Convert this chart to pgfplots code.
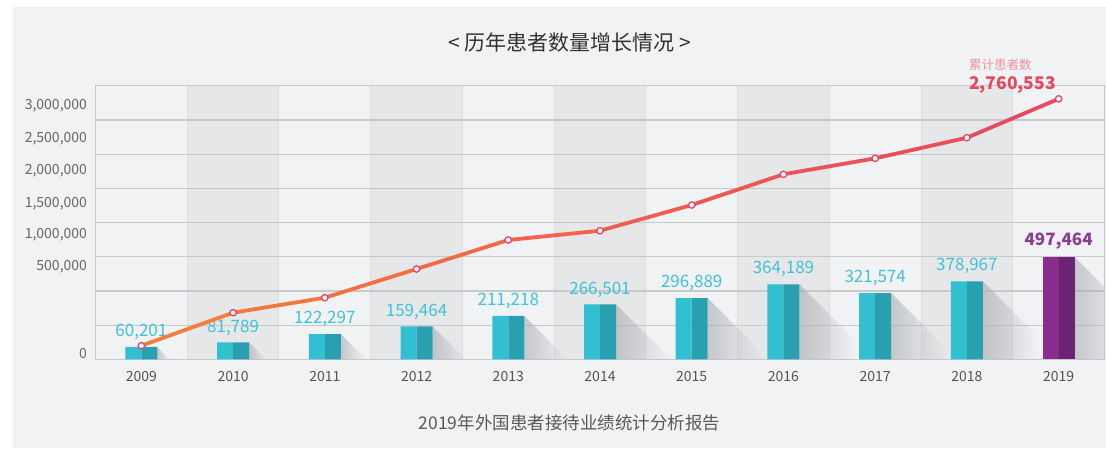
\documentclass[border=0pt]{standalone}
\usepackage{pgfplots}
\pgfplotsset{compat=1.18}
\usepackage{pgfplotstable}
\usepackage{fontspec}
\setmainfont{Noto Sans CJK SC}
\usetikzlibrary{calc,fadings}

\definecolor{outerbg}{HTML}{F1F2F4}
\definecolor{colshade}{HTML}{E6E7E9}
\definecolor{gridgray}{HTML}{C8C9CC}
\definecolor{sepgray}{HTML}{DCDDE0}
\definecolor{teallight}{HTML}{33BFD2}
\definecolor{tealdark}{HTML}{29A0AF}
\definecolor{purplelight}{HTML}{882C90}
\definecolor{purpledark}{HTML}{6B2373}
\definecolor{teallabel}{HTML}{40C3D7}
\definecolor{purplelabel}{HTML}{8B3C95}
\definecolor{shadowcol}{HTML}{A9ABB0}
\definecolor{markred}{HTML}{E8436C}
\definecolor{totalred}{HTML}{E8485C}
\definecolor{totalpink}{HTML}{F0909C}

\tikzfading[name=shadowfade, left color=transparent!0, right color=transparent!100]

\pgfplotsset{
  /pgf/number format/assume math mode=true,
  common/.style={
    scale only axis, width=1009pt, height=273.6pt,
    at={(95.5pt,88.7pt)}, anchor=south west,
    xmin=-0.5, xmax=10.5, scaled y ticks=false, scaled x ticks=false,
  },
}

\pgfplotstableread{
x v
0 60201
1 81789
2 122297
3 159464
4 211218
5 266501
6 296889
7 364189
8 321574
9 378967
}\tealdata

\pgfplotstableread{
x v
10 497464
}\purpledata

% cumulative line, positions
\pgfplotstableread{
x c
0 144100
1 493900
2 652900
3 957100
4 1264500
5 1363000
6 1635400
7 1960800
8 2130400
9 2348700
10 2760553
}\linedata

\newcommand\barshadow[2]{%
  \fill[shadowcol, fill opacity=0.6, path fading=shadowfade]
    let \p1=(axis cs:#1,#2), \p2=(axis cs:#1,0), \n1={min(\y1-\y2,55pt)} in
    (\x1+16pt,\y1) -- (\x1+16pt+\n1,\y1-\n1) -- (\x1+16pt+\n1,\y2) -- (\x1+16pt,\y2) -- cycle;}

\begin{document}
\begin{tikzpicture}[x=1pt,y=1pt]
\useasboundingbox (0,0) rectangle (1106,448);
\fill[outerbg] (13,0) rectangle (1106,441);

% column shading
\begin{axis}[common, hide axis, ymin=0, ymax=1]
  \fill[colshade] (axis cs:0.5,0) rectangle (axis cs:1.5,1);
  \fill[colshade] (axis cs:2.5,0) rectangle (axis cs:3.5,1);
  \fill[colshade] (axis cs:4.5,0) rectangle (axis cs:5.5,1);
  \fill[colshade] (axis cs:6.5,0) rectangle (axis cs:7.5,1);
  \fill[colshade] (axis cs:8.5,0) rectangle (axis cs:9.5,1);
\end{axis}

% grid and frame
\begin{axis}[common, ymin=0, ymax=8,
  axis line style={draw=gridgray, line width=1.3pt},
  ytick={0,1,2,3,4,5,6,7,8}, yticklabels={},
  ymajorgrids, grid style={draw=gridgray, line width=1.2pt},
  xtick={0,1,2,3,4,5,6,7,8,9,10},
  xticklabels={2009,2010,2011,2012,2013,2014,2015,2016,2017,2018,2019},
  minor xtick={0.5,1.5,2.5,3.5,4.5,5.5,6.5,7.5,8.5,9.5},
  xminorgrids, minor x grid style={draw=sepgray, line width=1pt},
  major tick length=0, minor tick length=0,
  xticklabel style={font=\fontsize{14}{16}\selectfont, text=black!67, yshift=-9pt},
]
\end{axis}

% bars
\begin{axis}[common, ybar,
  ymin=0, ymax=1330000,
  axis line style={draw=none},
  xtick=\empty, ytick=\empty,
  /pgf/number format/.cd, fixed, precision=0, 1000 sep={,},
]
  \barshadow{0}{60201}
  \barshadow{1}{81789}
  \barshadow{2}{122297}
  \barshadow{3}{159464}
  \barshadow{4}{211218}
  \barshadow{5}{266501}
  \barshadow{6}{296889}
  \barshadow{7}{364189}
  \barshadow{8}{321574}
  \barshadow{9}{378967}
  \barshadow{10}{497464}
  \addplot[ybar, bar width=16pt, bar shift=-8pt, fill=teallight, draw=none,
    nodes near coords,
    every node near coord/.append style={font=\fontsize{17}{20}\selectfont, text=teallabel, xshift=8pt, inner sep=0pt, yshift=7pt}]
    table[x=x,y=v]{\tealdata};
  \addplot[ybar, bar width=16pt, bar shift=8pt, fill=tealdark, draw=none]
    table[x=x,y=v]{\tealdata};
  \addplot[ybar, bar width=16pt, bar shift=-8pt, fill=purplelight, draw=none,
    nodes near coords,
    every node near coord/.append style={font=\fontsize{17}{20}\selectfont\bfseries, text=purplelabel, xshift=8pt, inner sep=0pt, yshift=7pt}]
    table[x=x,y=v]{\purpledata};
  \addplot[ybar, bar width=16pt, bar shift=8pt, fill=purpledark, draw=none]
    table[x=x,y=v]{\purpledata};
\end{axis}

% cumulative line
\begin{axis}[common,
  ymin=0, ymax=2900000,
  axis line style={draw=none},
  xtick=\empty,
  ytick={56200,978300,1322800,1648100,1997900,2338100,2692100},
  yticklabels={0,{500,000},{1,000,000},{1,500,000},{2,000,000},{2,500,000},{3,000,000}},
  major tick length=0,
  yticklabel style={font=\fontsize{14}{16}\selectfont, text=black!60, xshift=-5pt},
  colormap={linecm}{rgb255=(245,130,58) rgb255=(242,106,69) rgb255=(239,86,86) rgb255=(232,71,95)},
  point meta min=0, point meta max=10,
  clip=false,
]
  \addplot[mesh, point meta=x, line width=3.8pt, line cap=round] table[x=x,y=c]{\linedata};
  \addplot[only marks, mark=*, mark size=3.2pt, mark options={fill=white, draw=markred, line width=1.3pt}] table[x=x,y=c]{\linedata};
  \node[anchor=base east, inner sep=0pt, text=totalred, font=\fontsize{17.5}{21}\selectfont\bfseries, xshift=-2.5pt, yshift=9pt] (total) at (axis cs:10,2760553) {2,760,553};
  \node[anchor=south west, inner sep=0pt, text=totalpink, font=\fontsize{12.5}{15}\selectfont] at ([yshift=6pt]total.north west) {累计患者数};
\end{axis}

\node[font=\fontsize{21}{25}\selectfont, text=black!80] at (570,405) {<\ 历年患者数量增长情况\ >};
\node[font=\fontsize{17.5}{21}\selectfont, text=black!65] at (569.5,25) {2019年外国患者接待业绩统计分析报告};
\end{tikzpicture}
\end{document}
